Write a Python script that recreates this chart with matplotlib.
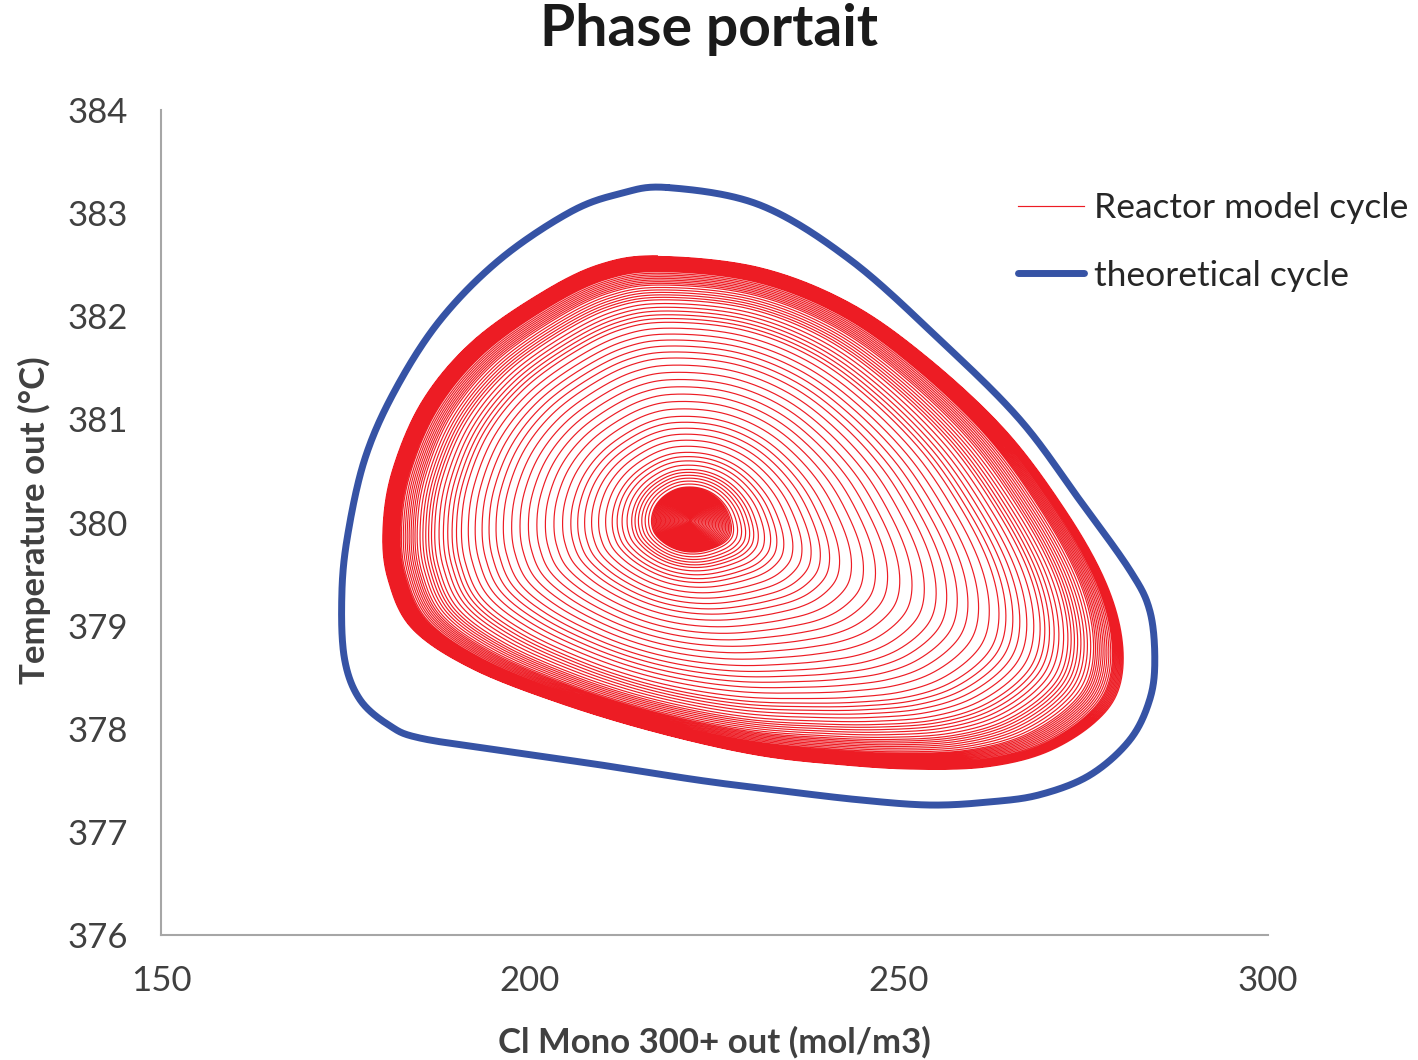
import numpy as np
import matplotlib.pyplot as plt

# theoretical cycle (clockwise from the top)
theo_x = [218.7, 231.2, 243.4, 255.6, 266.4, 274.5, 281.3, 284.0, 284.7, 284.0, 281.3, 275.9,
          269.1, 262.3, 254.2, 244.7, 233.9, 223.0, 209.5, 195.9, 185.1, 181.0, 177.0, 174.9,
          174.5, 175.2, 177.6, 181.7, 187.8, 195.9, 205.4, 212.2]
theo_y = [383.25, 383.08, 382.55, 381.77, 381.00, 380.22, 379.54, 379.15, 378.67, 378.28, 377.89, 377.55,
          377.36, 377.29, 377.26, 377.31, 377.40, 377.50, 377.65, 377.79, 377.91, 378.03, 378.28, 378.67,
          379.25, 379.83, 380.61, 381.28, 381.96, 382.55, 383.01, 383.19]

# outer edge of the reactor model spiral (clockwise from the top)
env_x = [217.6, 231.2, 243.4, 254.2, 265.0, 273.2, 278.6, 281.0, 280.6, 277.2, 270.5, 262.3, 252.8,
         243.4, 231.2, 217.6, 204.1, 191.9, 183.7, 180.4, 179.7, 181.0, 185.1, 191.9, 201.4, 209.5]
env_y = [382.61, 382.50, 382.16, 381.62, 380.90, 380.12, 379.44, 378.86, 378.37, 378.03, 377.74, 377.60, 377.58,
         377.62, 377.72, 377.94, 378.23, 378.57, 378.96, 379.44, 379.93, 380.51, 381.19, 381.77, 382.25, 382.53]
center_x, center_y = 221.7, 380.02

# size of the spiral relative to its outer edge, read at loop numbers
loop_n = [0, 30, 36, 40, 46, 54, 60, 66, 72, 80, 90, 100]
loop_scale = [0.0, 0.11, 0.17, 0.23, 0.36, 0.58, 0.72, 0.81, 0.87, 0.925, 0.965, 0.99]

SX, SY = 7.38, 103.1  # data units -> pixels, so the curves are smoothed evenly


def closed_spline(xs, ys, per=30):
    p = np.column_stack([np.asarray(xs) * SX, np.asarray(ys) * SY])
    n = len(p)
    t = np.linspace(0, 1, per, endpoint=False)[:, None]
    out = []
    for i in range(n):
        p0, p1, p2, p3 = p[i - 1], p[i], p[(i + 1) % n], p[(i + 2) % n]
        seg = 0.5 * ((2 * p1) + (-p0 + p2) * t + (2 * p0 - 5 * p1 + 4 * p2 - p3) * t ** 2
                     + (-p0 + 3 * p1 - 3 * p2 + p3) * t ** 3)
        out.append(seg)
    out = np.vstack(out)
    return out[:, 0] / SX, out[:, 1] / SY


bx, by = closed_spline(theo_x, theo_y)
bx = np.append(bx, bx[0])
by = np.append(by, by[0])

# outer edge, and a round shape for the small inner loops
ex, ey = closed_spline(env_x, env_y)
m = len(ex)
ang = np.arctan2((ey - center_y) * SY, (ex - center_x) * SX)
half_w = (max(env_x) - min(env_x)) / 2
half_h = (max(env_y) - min(env_y)) / 2 * 1.25
ox, oy = half_w * np.cos(ang), half_h * np.sin(ang)

t = np.arange(loop_n[-1] * m) / m
scale = np.interp(t, loop_n, loop_scale)
w = np.sqrt(scale)
idx = np.arange(len(t)) % m
rx = center_x + scale * ((1 - w) * ox[idx] + w * (ex[idx] - center_x))
ry = center_y + scale * ((1 - w) * oy[idx] + w * (ey[idx] - center_y))

plt.rcParams['font.family'] = ['Lato', 'DejaVu Sans']

fig = plt.figure(figsize=(14.18, 10.6), dpi=100)
ax = fig.add_axes([0.1135, 0.118, 0.7805, 0.778])

ax.plot(rx, ry, color='#ED1C24', linewidth=0.85, label='Reactor model cycle')
ax.plot(bx, by, color='#3653A5', linewidth=5, label='theoretical cycle', solid_capstyle='round')

ax.set_xlim(150, 300)
ax.set_ylim(376, 384)
ax.set_xticks([150, 200, 250, 300])
ax.set_yticks(range(376, 385))
ax.tick_params(length=0, labelsize=25, colors='#404040')
ax.tick_params(axis='x', pad=22)
ax.tick_params(axis='y', pad=24)
for s in ['top', 'right']:
    ax.spines[s].set_visible(False)
for s in ['left', 'bottom']:
    ax.spines[s].set_color('#A6A6A6')
    ax.spines[s].set_linewidth(1.5)

ax.set_xlabel('Cl Mono 300+ out (mol/m3)', fontsize=25, fontweight='bold', color='#404040')
ax.xaxis.label.set_va('center')
ax.xaxis.set_label_coords(0.5, -0.13)
ax.set_ylabel('Temperature out (°C)', fontsize=25, fontweight='bold', color='#404040')
ax.yaxis.label.set_va('center')
ax.yaxis.set_label_coords(-0.114, 0.503)
fig.text(0.5, 0.972, 'Phase portait', fontsize=41, fontweight='bold', color='#1a1a1a',
         ha='center', va='center')

leg = fig.legend(loc='upper left', bbox_to_anchor=(0.708, 0.832), frameon=False, fontsize=25.5,
                 handlelength=1.85, handletextpad=0.3, labelspacing=1.0, borderaxespad=0)
for txt in leg.get_texts():
    txt.set_color('#262626')

fig.savefig('out.png', dpi=100)
